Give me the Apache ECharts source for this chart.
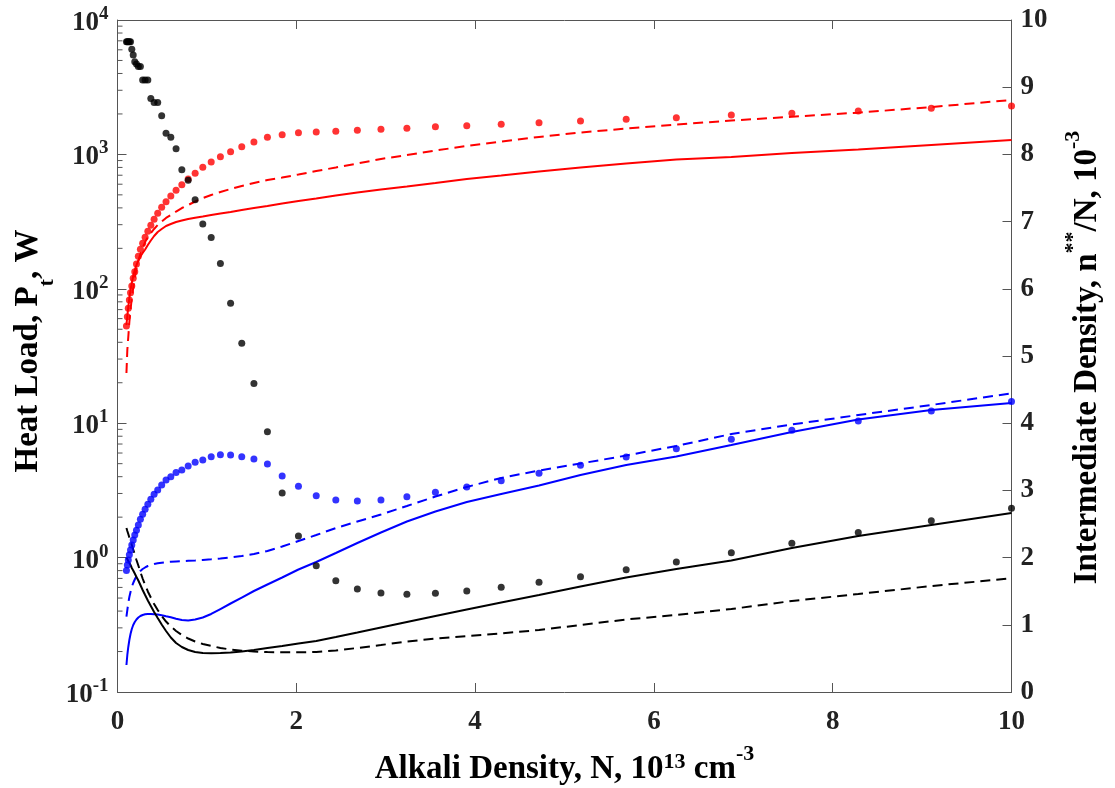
<!DOCTYPE html>
<html>
<head>
<meta charset="utf-8">
<script src="https://cdn.jsdelivr.net/npm/echarts@6/dist/echarts.min.js"></script>
<style>
  html, body { margin: 0; padding: 0; background: #fff; }
  #chart { width: 1115px; height: 788px; }
</style>
</head>
<body>
<div id="chart"></div>
<script>
// Alkali density N (10^13 cm^-3), log-spaced sample points
const alkaliDensity = [0.1, 0.1099, 0.1207, 0.1326, 0.1456, 0.16, 0.1758, 0.1931, 0.2121, 0.233,
  0.256, 0.2812, 0.3089, 0.3393, 0.3728, 0.4095, 0.4498, 0.4942, 0.5429, 0.5964,
  0.6551, 0.7197, 0.7906, 0.8685, 0.9541, 1.048, 1.151, 1.265, 1.39, 1.526,
  1.677, 1.842, 2.024, 2.223, 2.442, 2.683, 2.947, 3.237, 3.556, 3.907,
  4.292, 4.715, 5.179, 5.69, 6.251, 6.866, 7.543, 8.286, 9.103, 10];

// Heat load P_t (W), left log axis
const heatLoadBlack = [6900, 6900, 6900, 6900, 6900, 6050, 5500, 4900, 4700, 4500,
  4500, 3580, 3580, 3580, 2610, 2430, 2430, 1940, 1435, 1340,
  1100, 769, 641, 460, 303, 241, 154, 78, 39.3, 19.7,
  8.65, 3.03, 1.45, 0.87, 0.673, 0.583, 0.546, 0.533, 0.542, 0.564,
  0.601, 0.655, 0.721, 0.813, 0.927, 1.087, 1.277, 1.54, 1.88, 2.33];
const heatLoadRed = [52.8, 62, 71.6, 82.6, 93.5, 105, 120, 134, 153, 175,
  197, 218, 242, 268, 297, 329, 365, 404, 445, 490,
  541, 595, 656, 723, 801, 877, 961, 1047, 1140, 1236,
  1341, 1402, 1449, 1469, 1486, 1512, 1538, 1564, 1607, 1636,
  1675, 1722, 1774, 1825, 1876, 1965, 2023, 2104, 2204, 2292];
const heatLoadBlue = [0.8, 0.88, 0.96, 1.05, 1.14, 1.24, 1.35, 1.47, 1.60, 1.75,
  1.93, 2.10, 2.29, 2.49, 2.72, 2.96, 3.19, 3.47, 3.78, 4.0,
  4.29, 4.49, 4.81, 5.12, 5.32, 5.63, 5.83, 5.80, 5.63, 5.42,
  4.97, 4.05, 3.39, 2.89, 2.68, 2.64, 2.68, 2.84, 3.06, 3.35,
  3.73, 4.24, 4.86, 5.61, 6.46, 7.59, 8.85, 10.4, 12.3, 14.5];

// Intermediate density n**/N (10^-3), right linear axis
const ratioRedSolid = [5.461, 5.595, 5.729, 5.863, 5.982, 6.086, 6.190, 6.280, 6.354, 6.421,
  6.481, 6.533, 6.585, 6.652, 6.719, 6.786, 6.845, 6.890, 6.935, 6.964,
  6.994, 7.016, 7.039, 7.058, 7.076, 7.098, 7.121, 7.143, 7.173, 7.202,
  7.232, 7.269, 7.307, 7.344, 7.388, 7.433, 7.478, 7.522, 7.574, 7.634,
  7.686, 7.746, 7.805, 7.865, 7.924, 7.961, 8.021, 8.073, 8.140, 8.214];
const ratioRedDashed = [4.747, 5.089, 5.283, 5.506, 5.685, 5.863, 6.012, 6.161, 6.295, 6.414,
  6.518, 6.607, 6.696, 6.771, 6.830, 6.890, 6.949, 7.001, 7.054, 7.098,
  7.150, 7.202, 7.247, 7.299, 7.351, 7.396, 7.440, 7.485, 7.530, 7.574,
  7.619, 7.656, 7.701, 7.753, 7.805, 7.865, 7.932, 7.991, 8.058, 8.125,
  8.192, 8.259, 8.326, 8.385, 8.445, 8.504, 8.561, 8.621, 8.705, 8.810];
const ratioBlueSolid = [0.402, 0.551, 0.670, 0.774, 0.863, 0.938, 0.997, 1.042, 1.079, 1.109,
  1.131, 1.146, 1.156, 1.161, 1.161, 1.158, 1.153, 1.143, 1.128, 1.112,
  1.091, 1.071, 1.064, 1.079, 1.109, 1.161, 1.235, 1.317, 1.406, 1.503,
  1.600, 1.704, 1.823, 1.935, 2.068, 2.217, 2.374, 2.537, 2.686, 2.827,
  2.946, 3.073, 3.229, 3.378, 3.504, 3.676, 3.869, 4.055, 4.196, 4.301];
const ratioBlueDashed = [1.121, 1.220, 1.324, 1.414, 1.488, 1.563, 1.622, 1.674, 1.726, 1.763,
  1.801, 1.830, 1.853, 1.875, 1.890, 1.905, 1.915, 1.924, 1.932, 1.938,
  1.942, 1.946, 1.952, 1.957, 1.964, 1.975, 1.988, 2.004, 2.024, 2.054,
  2.098, 2.165, 2.247, 2.336, 2.440, 2.537, 2.641, 2.768, 2.909, 3.051,
  3.185, 3.296, 3.400, 3.519, 3.661, 3.839, 3.981, 4.122, 4.271, 4.445];
const ratioBlackSolid = [2.001, 1.979, 1.949, 1.920, 1.890, 1.845, 1.808, 1.763, 1.711, 1.659,
  1.592, 1.518, 1.443, 1.362, 1.280, 1.190, 1.101, 1.004, 0.908, 0.811,
  0.729, 0.670, 0.625, 0.595, 0.580, 0.576, 0.580, 0.588, 0.603, 0.625,
  0.655, 0.685, 0.722, 0.759, 0.818, 0.885, 0.960, 1.042, 1.131, 1.228,
  1.332, 1.443, 1.570, 1.704, 1.830, 1.957, 2.143, 2.321, 2.485, 2.664];
const ratioBlackDashed = [2.440, 2.396, 2.351, 2.299, 2.247, 2.188, 2.121, 2.046, 1.964, 1.882,
  1.786, 1.689, 1.592, 1.496, 1.406, 1.310, 1.220, 1.131, 1.049, 0.975,
  0.908, 0.848, 0.796, 0.751, 0.714, 0.685, 0.655, 0.632, 0.615, 0.603,
  0.595, 0.591, 0.591, 0.595, 0.618, 0.655, 0.699, 0.751, 0.796, 0.833,
  0.871, 0.923, 0.997, 1.079, 1.146, 1.235, 1.354, 1.458, 1.577, 1.692];

// Axis tick settings
const xTickLabels = [0, 2, 4, 6, 8, 10];
const leftDecades = [-1, 0, 1, 2, 3, 4];
const rightTickLabels = [0, 1, 2, 3, 4, 5, 6, 7, 8, 9, 10];

const FONT = '"Liberation Serif", "Times New Roman", serif';
const TEXT = '#222';
const AXIS = '#555';
const RED = '#ff0000', BLUE = '#0000ff', BLACK = '#000000';

const pairs = ys => alkaliDensity.map((x, i) => [x, ys[i]]);

// Minor ticks of the log axis at 2..9 x 10^n
const minorTicks = [];
for (let i = 0; i < leftDecades.length - 1; i++) {
  for (let m = 2; m <= 9; m++) minorTicks.push([0, m * Math.pow(10, leftDecades[i])]);
}

const tok = (size, extra) => Object.assign({
  fontFamily: FONT, fontWeight: 'bold', fontSize: size, color: TEXT, lineHeight: size
}, extra);

// Tick labels 10^n: exponent raised by bottom padding
const tickRich = {
  b: tok(27, { verticalAlign: 'bottom' }),
  s: tok(19, { verticalAlign: 'bottom', padding: [0, 0, 13, 0] })
};
// Axis titles
const titleRich = {
  b: tok(33, { verticalAlign: 'bottom' }),
  s: tok(22, { verticalAlign: 'bottom', padding: [0, 0, 12.5, 0] }),
  h: tok(22, { verticalAlign: 'bottom', padding: [0, 0, 20, 0] })
};
const subRich = {
  b: tok(33, { verticalAlign: 'top' }),
  sub: tok(22, { verticalAlign: 'top', padding: [24.5, 0, 0, 0] })
};

const lineSeries = (name, ys, color, dashed) => ({
  name, type: 'line', xAxisIndex: 0, yAxisIndex: 1, data: pairs(ys),
  showSymbol: false, symbol: 'none', smooth: false, z: 2,
  lineStyle: { color, width: 2, type: dashed ? [10, 6] : 'solid' }
});
const dotSeries = (name, ys, color) => ({
  name, type: 'scatter', xAxisIndex: 0, yAxisIndex: 0, data: pairs(ys),
  symbol: 'circle', symbolSize: 7, itemStyle: { color }, z: 3
});

const xAxisBase = {
  type: 'value', min: xTickLabels[0], max: xTickLabels[xTickLabels.length - 1], interval: 2,
  axisLine: { show: true, onZero: false, lineStyle: { color: AXIS, width: 1 } },
  axisTick: { show: true, inside: true, length: 9, lineStyle: { color: AXIS } },
  splitLine: { show: false }
};

const chart = echarts.init(document.getElementById('chart'), null, { renderer: 'canvas' });
chart.setOption({
  animation: false,
  backgroundColor: '#fff',
  grid: { left: 117.5, right: 103.5, top: 20, bottom: 96, containLabel: false },
  xAxis: [
    Object.assign({}, xAxisBase, {
      position: 'bottom',
      axisLabel: { fontFamily: FONT, fontWeight: 'bold', fontSize: 27, color: TEXT, margin: 17 }
    }),
    Object.assign({}, xAxisBase, { position: 'top', axisLabel: { show: false } })
  ],
  yAxis: [
    {
      type: 'log', logBase: 10,
      min: Math.pow(10, leftDecades[0]), max: Math.pow(10, leftDecades[leftDecades.length - 1]),
      position: 'left',
      axisLine: { show: true, onZero: false, lineStyle: { color: AXIS, width: 1 } },
      axisTick: { show: true, inside: true, length: 9, lineStyle: { color: AXIS } },
      splitLine: { show: false },
      axisLabel: {
        margin: 9, padding: [6, 0, 0, 0],
        formatter: v => '{b|10}{s|' + Math.round(Math.log10(v)) + '}',
        rich: tickRich
      }
    },
    {
      type: 'value', min: rightTickLabels[0], max: rightTickLabels[rightTickLabels.length - 1], interval: 1,
      position: 'right',
      axisLine: { show: true, onZero: false, lineStyle: { color: AXIS, width: 1 } },
      axisTick: { show: true, inside: true, length: 9, lineStyle: { color: AXIS } },
      splitLine: { show: false },
      axisLabel: { fontFamily: FONT, fontWeight: 'bold', fontSize: 27, color: TEXT, margin: 9 }
    }
  ],
  graphic: [
    {
      type: 'text', x: 564.5, y: 769,
      style: { text: '{b|Alkali Density, N, 10}{s|13}{b| cm}{h|-3}', rich: titleRich, align: 'center', verticalAlign: 'middle' }
    },
    {
      type: 'text', x: 28.5, y: 351, rotation: Math.PI / 2,
      style: { text: '{b|Heat Load, P}{sub|t}{b|, W}', rich: subRich, align: 'center', verticalAlign: 'middle' }
    },
    {
      type: 'text', x: 1087.5, y: 357.5, rotation: Math.PI / 2,
      style: { text: '{b|Intermediate Density, n}{h|**}{b|/N, 10}{h|-3}', rich: titleRich, align: 'center', verticalAlign: 'middle' }
    }
  ],
  series: [
    {
      type: 'custom', xAxisIndex: 0, yAxisIndex: 0, data: minorTicks, clip: false, silent: true, z: 1,
      renderItem: (params, api) => {
        const p = api.coord([api.value(0), api.value(1)]);
        return { type: 'line', shape: { x1: p[0], y1: p[1], x2: p[0] + 5, y2: p[1] }, style: { stroke: AXIS, lineWidth: 1 } };
      }
    },
    lineSeries('ratio red solid', ratioRedSolid, RED, false),
    lineSeries('ratio red dashed', ratioRedDashed, RED, true),
    lineSeries('ratio blue solid', ratioBlueSolid, BLUE, false),
    lineSeries('ratio blue dashed', ratioBlueDashed, BLUE, true),
    lineSeries('ratio black solid', ratioBlackSolid, BLACK, false),
    lineSeries('ratio black dashed', ratioBlackDashed, BLACK, true),
    dotSeries('heat load red', heatLoadRed, RED),
    dotSeries('heat load blue', heatLoadBlue, BLUE),
    dotSeries('heat load black', heatLoadBlack, BLACK)
  ]
});
</script>
</body>
</html>
